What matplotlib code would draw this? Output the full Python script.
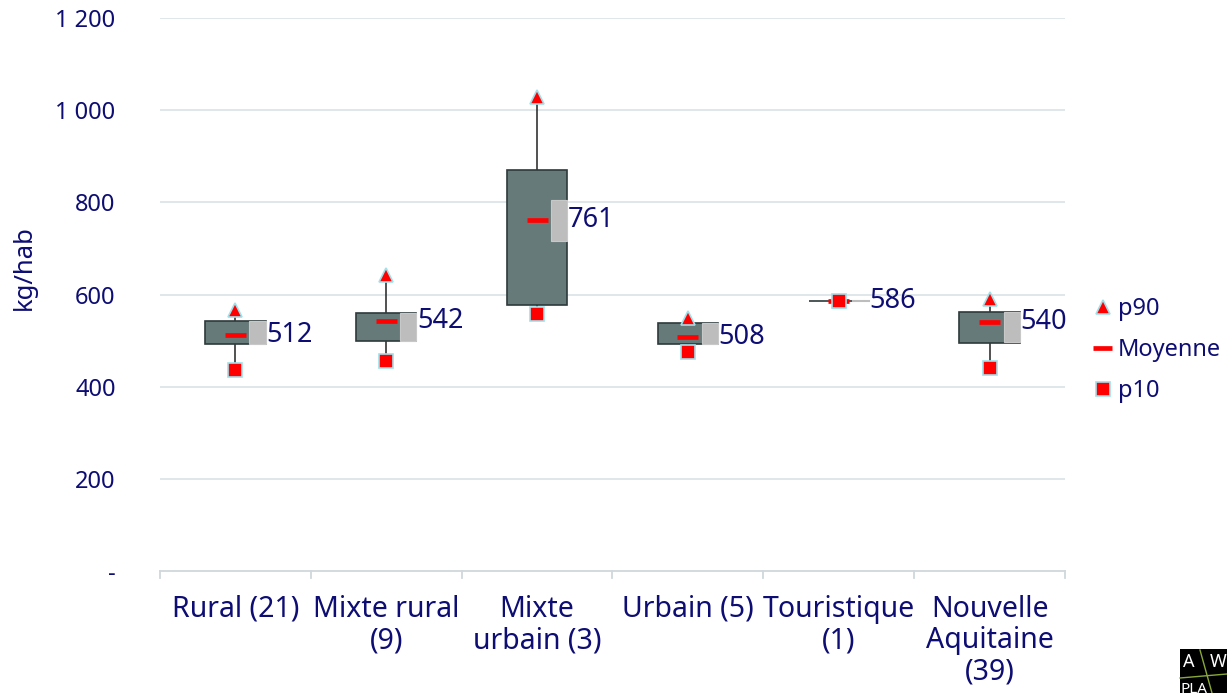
import matplotlib
matplotlib.use("Agg")
import matplotlib.pyplot as plt
from matplotlib.patches import Rectangle
from matplotlib.lines import Line2D

categories = ["Rural (21)", "Mixte rural\n(9)", "Mixte\nurbain (3)", "Urbain (5)", "Touristique\n(1)", "Nouvelle\nAquitaine\n(39)"]
p10 = [436, 456, 558, 475, 586, 440]
box_low = [493, 499, 577, 493, 586, 495]
box_high = [542, 560, 870, 538, 586, 563]
mean = [512, 542, 761, 508, 586, 540]
p90 = [566, 642, 1029, 549, 586, 590]
yticks = [0, 200, 400, 600, 800, 1000, 1200]
yticklabels = ["-", "200", "400", "600", "800", "1 000", "1 200"]

NAVY = "#0d0d73"
FONT = "Noto Sans"
plt.rcParams["font.family"] = [FONT, "DejaVu Sans"]

fig = plt.figure(figsize=(12.27, 6.93), dpi=100)
ax = fig.add_axes([160/1227, 1-571/693, 905/1227, 553/693])
ax.set_xlim(-0.5, 5.5)
ax.set_ylim(0, 1200)

for y in yticks[1:]:
    ax.axhline(y, color="#dde5e8", lw=1.3, zorder=0)

bw = 0.40
gw = 0.107
for i in range(len(categories)):
    # whiskers
    ax.plot([i, i], [box_high[i], p90[i]], color="#222222", lw=1.1, zorder=1)
    ax.plot([i, i], [p10[i], box_low[i]], color="#222222", lw=1.1, zorder=1)
    # box
    ax.add_patch(Rectangle((i - bw/2, box_low[i]), bw, box_high[i] - box_low[i],
                           facecolor="#677a7a", edgecolor="#2e3a3b", lw=1.2, zorder=2))
    # grey label band
    lo = max(box_low[i], mean[i] - 44)
    hi = min(box_high[i], mean[i] + 44)
    if hi - lo > 0:
        ax.add_patch(Rectangle((i + bw/2 - gw, lo), gw, hi - lo,
                               facecolor="#bdbdbd", edgecolor="#c8c8c8", lw=0.8, zorder=3))
    else:
        ax.plot([i + bw/2 - gw, i + bw/2], [lo, lo], color="#bdbdbd", lw=1.5, zorder=3)
    # mean dash
    ax.plot([i - 0.07, i + 0.07], [mean[i], mean[i]], color="#ff0000", lw=3.4,
            solid_capstyle="butt", zorder=4)
    # markers
    ax.plot(i, p90[i], marker="^", ms=10.5, color="#ff0000", mec="#9fe0ea", mew=1.2, zorder=5)
    ax.plot(i, p10[i], marker="s", ms=10.5, color="#ff0000", mec="#9fe0ea", mew=1.2, zorder=5)
    # label
    ax.text(i + bw/2 + 0.003, mean[i], f"{mean[i]}", color=NAVY, fontsize=19.5,
            va="center", ha="left", zorder=6)

ax.set_yticks(yticks)
ax.set_yticklabels(yticklabels)
ax.set_xticks(range(len(categories)))
ax.set_xticklabels(categories, linespacing=1.12)
ax.tick_params(axis="y", length=0, labelsize=17, labelcolor=NAVY, pad=32)
ax.tick_params(axis="x", length=0, labelsize=20.5, labelcolor=NAVY, pad=17)
for s in ["top", "right", "left"]:
    ax.spines[s].set_visible(False)
ax.spines["bottom"].set_color("#d0d8dc")
ax.spines["bottom"].set_linewidth(1.3)
for b in [-0.5 + k for k in range(7)]:
    ax.plot([b, b], [0, -16], color="#d0d8dc", lw=1.3, clip_on=False)

fig.text(24/1227, 1-268/693, "kg/hab", rotation=90, color=NAVY, fontsize=18.5,
         ha="center", va="center")

handles = [
    Line2D([], [], ls="none", marker="^", ms=10.5, color="#ff0000", mec="#9fe0ea", mew=1.2),
    Line2D([], [], ls="-", lw=3.4, color="#ff0000", solid_capstyle="butt"),
    Line2D([], [], ls="none", marker="s", ms=10.5, color="#ff0000", mec="#9fe0ea", mew=1.2),
]
leg = fig.legend(handles, ["p90", "Moyenne", "p10"], loc="center left",
                 bbox_to_anchor=(1072/1227, 1-350/693), frameon=False,
                 fontsize=17, handlelength=0.8, handletextpad=0.25, labelspacing=0.72)
for t in leg.get_texts():
    t.set_color(NAVY)

# logo fragment bottom-right
fig.patches.append(Rectangle((1180/1227, 0), 47/1227, 44/693, transform=fig.transFigure,
                             facecolor="black", edgecolor="none"))
fig.text(1183/1227, 1-662/693, "A", color="white", fontsize=13, fontweight="bold", va="center")
fig.text(1210/1227, 1-662/693, "W", color="white", fontsize=13, fontweight="bold", va="center")
fig.text(1181/1227, 1-682/693, "PLA", color="white", fontsize=11, fontweight="bold", va="top")
fig.lines.append(Line2D([1200/1227, 1212/1227], [1-650/693, 1-693/693], transform=fig.transFigure,
                        color="#8aa83a", lw=1))
fig.lines.append(Line2D([1180/1227, 1227/1227], [1-678/693, 1-674/693], transform=fig.transFigure,
                        color="#8aa83a", lw=1))

fig.savefig("out.png", dpi=100)
